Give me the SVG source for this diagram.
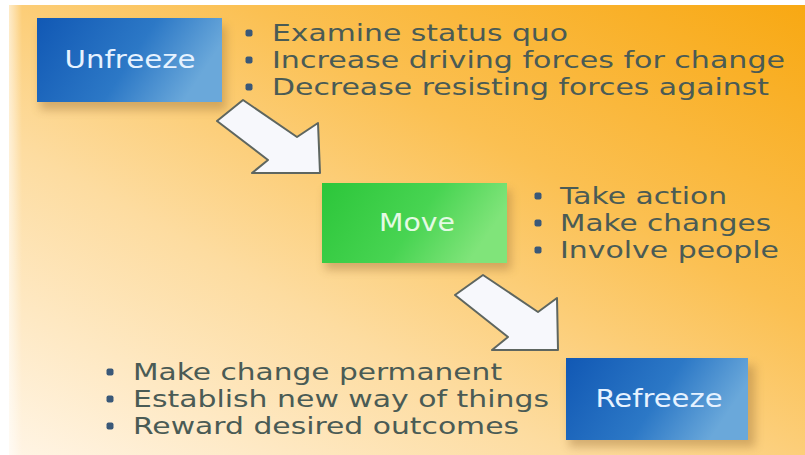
<svg xmlns="http://www.w3.org/2000/svg" width="805" height="455" viewBox="0 0 805 455">
<defs>
<linearGradient id="bg" x1="0" y1="1" x2="1" y2="0">
<stop offset="0" stop-color="#fff5e6"/>
<stop offset="0.35" stop-color="#fddca0"/>
<stop offset="0.65" stop-color="#fbc052"/>
<stop offset="1" stop-color="#f8a812"/>
</linearGradient>
<linearGradient id="lw" x1="0" y1="0" x2="1" y2="0">
<stop offset="0" stop-color="#ffffff"/>
<stop offset="1" stop-color="#ffffff" stop-opacity="0"/>
</linearGradient>
<linearGradient id="blue" x1="0" y1="0" x2="1" y2="0.3">
<stop offset="0" stop-color="#1158b4"/>
<stop offset="0.6" stop-color="#2c78c6"/>
<stop offset="1" stop-color="#6aa8da"/>
</linearGradient>
<linearGradient id="green" x1="0" y1="0" x2="1" y2="0.3">
<stop offset="0" stop-color="#2cc63a"/>
<stop offset="0.6" stop-color="#48d452"/>
<stop offset="1" stop-color="#80e47a"/>
</linearGradient>
<filter id="sh" x="-20%" y="-20%" width="140%" height="150%">
<feGaussianBlur stdDeviation="5"/>
</filter>
</defs>
<style>
.lbl{font-family:"DejaVu Sans",Verdana,sans-serif;font-size:24px;fill:#e6f2ff;text-anchor:middle;}
.bul{font-family:"DejaVu Sans",Verdana,sans-serif;font-size:23px;fill:#4a5b55;}
.dot{fill:#3a5878;}
.arrow{fill:#f7f8fc;stroke:#5e6660;stroke-width:2;stroke-linejoin:round;}
.shadow{fill:#a07840;opacity:0.45;}
</style>
<rect width="805" height="455" fill="url(#bg)"/>
<rect width="805" height="5" fill="#ffffff"/>
<rect width="22" height="455" fill="url(#lw)"/>
<rect width="9" height="455" fill="#ffffff"/>

<g id="unfreeze">
<rect class="shadow" x="40" y="26" width="186" height="84" filter="url(#sh)"/>
<rect x="37" y="18" width="185" height="84" fill="url(#blue)"/>
<text class="lbl" x="130" y="68" textLength="131" lengthAdjust="spacingAndGlyphs">Unfreeze</text>
</g>
<g id="unfreeze-notes">
<rect class="dot" x="245.5" y="29.5" width="7" height="7" rx="2"/>
<rect class="dot" x="245.5" y="56.5" width="7" height="7" rx="2"/>
<rect class="dot" x="245.5" y="83.5" width="7" height="7" rx="2"/>
<text class="bul" x="272" y="41" textLength="296" lengthAdjust="spacingAndGlyphs">Examine status quo</text>
<text class="bul" x="272" y="68" textLength="513" lengthAdjust="spacingAndGlyphs">Increase driving forces for change</text>
<text class="bul" x="272" y="95" textLength="497" lengthAdjust="spacingAndGlyphs">Decrease resisting forces against</text>
</g>

<g id="move">
<rect class="shadow" x="325" y="190" width="186" height="80" filter="url(#sh)"/>
<rect x="322" y="183" width="185" height="80" fill="url(#green)"/>
<text class="lbl" x="417" y="231" style="fill:#e4fae4" textLength="76" lengthAdjust="spacingAndGlyphs">Move</text>
</g>
<g id="move-notes">
<rect class="dot" x="534.5" y="192.5" width="7" height="7" rx="2"/>
<rect class="dot" x="534.5" y="219.5" width="7" height="7" rx="2"/>
<rect class="dot" x="534.5" y="246.5" width="7" height="7" rx="2"/>
<text class="bul" x="560" y="204" textLength="167" lengthAdjust="spacingAndGlyphs">Take action</text>
<text class="bul" x="560" y="231" textLength="211" lengthAdjust="spacingAndGlyphs">Make changes</text>
<text class="bul" x="560" y="258" textLength="219" lengthAdjust="spacingAndGlyphs">Involve people</text>
</g>

<g id="refreeze">
<rect class="shadow" x="569" y="365" width="186" height="82" filter="url(#sh)"/>
<rect x="566" y="358" width="182" height="82" fill="url(#blue)"/>
<text class="lbl" x="659" y="407" textLength="127" lengthAdjust="spacingAndGlyphs">Refreeze</text>
</g>
<g id="refreeze-notes">
<rect class="dot" x="106.5" y="368.5" width="7" height="7" rx="2"/>
<rect class="dot" x="106.5" y="395.5" width="7" height="7" rx="2"/>
<rect class="dot" x="106.5" y="422.5" width="7" height="7" rx="2"/>
<text class="bul" x="133" y="380" textLength="369" lengthAdjust="spacingAndGlyphs">Make change permanent</text>
<text class="bul" x="133" y="407" textLength="416" lengthAdjust="spacingAndGlyphs">Establish new way of things</text>
<text class="bul" x="133" y="434" textLength="386" lengthAdjust="spacingAndGlyphs">Reward desired outcomes</text>
</g>

<g id="connectors">
<polygon class="arrow" points="243,100 217,121 268,160 252,173 320,173 318,123 297,137"/>
<polygon class="arrow" points="483,275 455,295 508,337 492,350 558,350 557,298 538,312"/>
</g>
</svg>
